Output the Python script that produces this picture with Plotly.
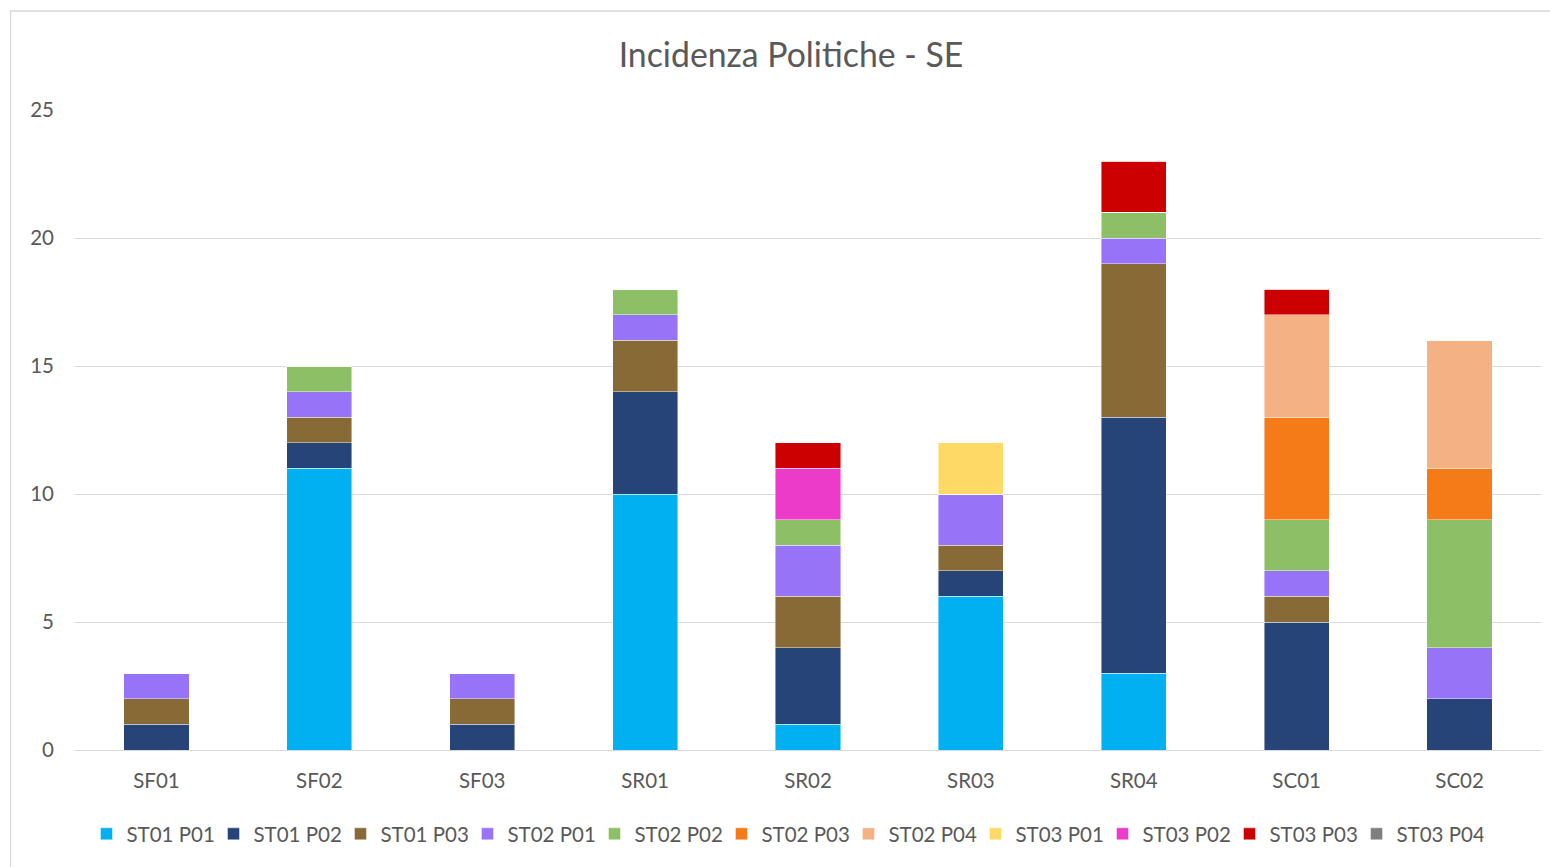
import plotly.graph_objects as go

categories = ["SF01", "SF02", "SF03", "SR01", "SR02", "SR03", "SR04", "SC01", "SC02"]

series_names = ["ST01 P01", "ST01 P02", "ST01 P03", "ST02 P01", "ST02 P02", "ST02 P03",
                "ST02 P04", "ST03 P01", "ST03 P02", "ST03 P03", "ST03 P04"]

st01_p01 = [0, 11, 0, 10, 1, 6, 3, 0, 0]
st01_p02 = [1, 1, 1, 4, 3, 1, 10, 5, 2]
st01_p03 = [1, 1, 1, 2, 2, 1, 6, 1, 0]
st02_p01 = [1, 1, 1, 1, 2, 2, 1, 1, 2]
st02_p02 = [0, 1, 0, 1, 1, 0, 1, 2, 5]
st02_p03 = [0, 0, 0, 0, 0, 0, 0, 4, 2]
st02_p04 = [0, 0, 0, 0, 0, 0, 0, 4, 5]
st03_p01 = [0, 0, 0, 0, 0, 2, 0, 0, 0]
st03_p02 = [0, 0, 0, 0, 2, 0, 0, 0, 0]
st03_p03 = [0, 0, 0, 0, 1, 0, 2, 1, 0]
st03_p04 = [0, 0, 0, 0, 0, 0, 0, 0, 0]

y_ticks = [0, 5, 10, 15, 20, 25]

series_values = [st01_p01, st01_p02, st01_p03, st02_p01, st02_p02, st02_p03,
                 st02_p04, st03_p01, st03_p02, st03_p03, st03_p04]

colors = ["#00B0F0", "#264478", "#876A35", "#9673F7", "#8DC066", "#F57A18",
          "#F4B183", "#FFD966", "#EC3BC8", "#CC0000", "#7F7F7F"]

FONT = "Lato, Carlito, Calibri, sans-serif"
GRAY = "#595959"

fig = go.Figure()
for name, vals, col in zip(series_names, series_values, colors):
    fig.add_trace(go.Bar(
        x=categories, y=vals, name=name,
        marker=dict(color=col, line=dict(color="rgba(255,255,255,0.55)", width=0.8)),
    ))

W, H = 1550, 867
PL, PR, PT, PB = 74.5, 1541.5, 110, 750
PW, PH = PR - PL, PB - PT

fig.update_layout(
    width=W, height=H,
    barmode="stack",
    bargap=0.6,
    paper_bgcolor="white",
    plot_bgcolor="white",
    margin=dict(l=PL, r=W - PR, t=PT, b=H - PB, autoexpand=False),
    font=dict(family=FONT, color=GRAY, size=20),
    title=dict(text="Incidenza Politiche - SE", x=791 / W, xanchor="center",
               y=1 - 55 / H, yanchor="middle",
               font=dict(family=FONT, size=33.8, color=GRAY)),
    legend=dict(orientation="h", x=(86 - PL) / PW, xanchor="left", xref="paper",
                y=-(834 - PB) / PH, yanchor="middle",
                font=dict(family=FONT, size=20.5, color=GRAY),
                entrywidth=82, entrywidthmode="pixels",
                itemwidth=30, tracegroupgap=0, traceorder="normal"),
    xaxis=dict(showgrid=False, showline=True, linecolor="#D9D9D9", linewidth=1.3,
               ticks="", ticklabelstandoff=12,
               tickfont=dict(family=FONT, size=20.5, color=GRAY)),
    yaxis=dict(range=[0, 25], tickvals=y_ticks, showgrid=True, gridcolor="#D9D9D9",
               gridwidth=1.3, zeroline=False, showline=False, ticks="",
               ticklabelstandoff=20,
               tickfont=dict(family=FONT, size=20.5, color=GRAY)),
    shapes=[dict(type="rect", xref="paper", yref="paper",
                 x0=(10 - PL) / PW, x1=(W + 5 - PL) / PW,
                 y0=-(H + 5 - PB) / PH, y1=(PB - 11) / PH,
                 line=dict(color="#D9D9D9", width=1.3), fillcolor="rgba(0,0,0,0)",
                 layer="below")],
)

fig.write_html("out.html",
               config={"displayModeBar": False},
               post_script="document.body.style.margin='0';document.body.style.overflow='hidden';")
